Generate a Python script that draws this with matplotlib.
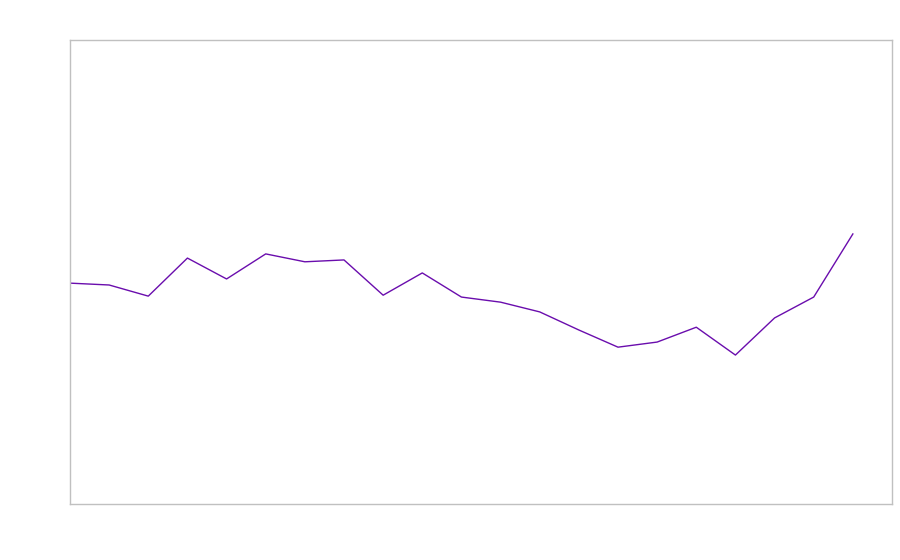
import matplotlib
matplotlib.use("Agg")
import matplotlib.pyplot as plt
import numpy as np

# data (no labels shown, 0-100 scale)
x_idx = np.arange(21)
values = [47.6, 47.2, 44.8, 53.0, 48.5, 53.9, 52.2, 52.6, 45.0, 49.8,
          44.6, 43.5, 41.4, 37.5, 33.8, 34.9, 38.1, 32.1, 40.1, 44.6, 58.2]

fig = plt.figure(figsize=(9, 5.6), dpi=100)
ax = fig.add_axes([70 / 900, 1 - 504 / 560, 822 / 900, 464 / 560])
ax.plot(x_idx, values, color="#6a0dad", linewidth=1.0)
ax.set_xlim(0, 21)
ax.set_ylim(0, 100)
ax.set_xticks([])
ax.set_yticks([])
for sp in ax.spines.values():
    sp.set_color("#c0c0c0")
    sp.set_linewidth(1.0)

plt.savefig("out.png", dpi=100)
plt.close()
